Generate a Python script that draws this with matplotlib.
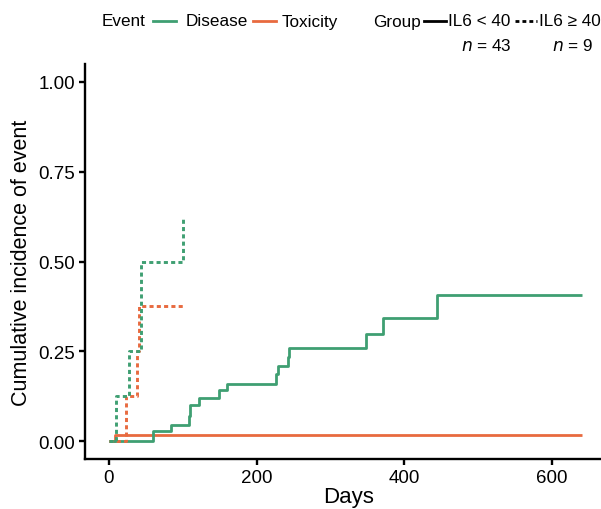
import matplotlib
matplotlib.use("Agg")
import matplotlib.pyplot as plt
from matplotlib.lines import Line2D

plt.rcParams['font.family'] = ['Liberation Sans', 'DejaVu Sans']

# ---- data ----
dis_low_t = [0, 59, 84, 108, 110, 122, 149, 160, 226, 228.5, 243, 244.5, 348, 372, 444, 641]
dis_low_v = [0, 0.028, 0.045, 0.07, 0.10, 0.121, 0.142, 0.160, 0.186, 0.210, 0.235, 0.259, 0.298, 0.343, 0.408, 0.408]

tox_low_t = [0, 8, 641]
tox_low_v = [0, 0.016, 0.016]

dis_high_t = [0, 9, 27, 43, 100]
dis_high_v = [0, 0.125, 0.25, 0.5, 0.625]

tox_high_t = [0, 22.5, 38.5, 41, 100]
tox_high_v = [0, 0.125, 0.25, 0.375, 0.375]

x_ticks = [0, 200, 400, 600]
y_ticks = [0.00, 0.25, 0.50, 0.75, 1.00]

GREEN = '#3f9f72'
ORANGE = '#e86a3f'
DOT = (0, (1.4, 1.1))

fig = plt.figure(figsize=(6.01, 5.10), dpi=100)
W, H = 601, 510
ax = fig.add_axes([85 / W, (H - 460) / H, (612.5 - 85) / W, (460 - 65) / H])

ax.step(tox_low_t, tox_low_v, where='post', color=ORANGE, lw=2.0, solid_capstyle='butt')
ax.step(dis_low_t, dis_low_v, where='post', color=GREEN, lw=2.0, solid_capstyle='butt')
ax.step(tox_high_t, tox_high_v, where='post', color=ORANGE, lw=2.1, linestyle=DOT)
ax.step(dis_high_t, dis_high_v, where='post', color=GREEN, lw=2.1, linestyle=DOT)

ax.set_xlim(-32.5, 682.5)
ax.set_ylim(-0.05, 1.05)
ax.set_xticks(x_ticks)
ax.set_yticks(y_ticks)
ax.set_yticklabels([f"{v:.2f}" for v in y_ticks])
ax.spines['top'].set_visible(False)
ax.spines['right'].set_visible(False)
for s in ('left', 'bottom'):
    ax.spines[s].set_linewidth(1.7)
ax.tick_params(axis='both', length=4, width=1.7, labelsize=13.5, colors='black', pad=3)
ax.set_xlabel('Days', fontsize=16, labelpad=0)
ax.set_ylabel('Cumulative incidence of event', fontsize=15.5, labelpad=5)

# ---- legend (manual, figure coords in pixels) ----
def fx(px):
    return px / W

def fy(py):
    return 1 - py / H

ty = 22
fs = 12.3
fig.text(fx(102), fy(ty), 'Event', fontsize=fs, va='center', ha='left')
fig.add_artist(Line2D([fx(153), fx(176)], [fy(ty), fy(ty)], color=GREEN, lw=2.0))
fig.text(fx(186), fy(ty), 'Disease', fontsize=fs, va='center', ha='left')
fig.add_artist(Line2D([fx(253), fx(276)], [fy(ty), fy(ty)], color=ORANGE, lw=2.0))
fig.text(fx(282), fy(ty), 'Toxicity', fontsize=fs, va='center', ha='left')
fig.text(fx(421), fy(ty), 'Group', fontsize=fs, va='center', ha='right')
fig.add_artist(Line2D([fx(424), fx(446)], [fy(ty), fy(ty)], color='black', lw=2.0))
fig.text(fx(448), fy(ty), 'IL6 < 40', fontsize=fs, va='center', ha='left')
fig.add_artist(Line2D([fx(515), fx(537)], [fy(ty), fy(ty)], color='black', lw=2.0, linestyle=DOT))
fig.text(fx(539), fy(ty), 'IL6 ≥ 40', fontsize=fs, va='center', ha='left')
fig.text(fx(486), fy(46), r'$n$ = 43', fontsize=fs, va='center', ha='center')
fig.text(fx(573), fy(46), r'$n$ = 9', fontsize=fs, va='center', ha='center')

fig.savefig('out.png', dpi=100)
